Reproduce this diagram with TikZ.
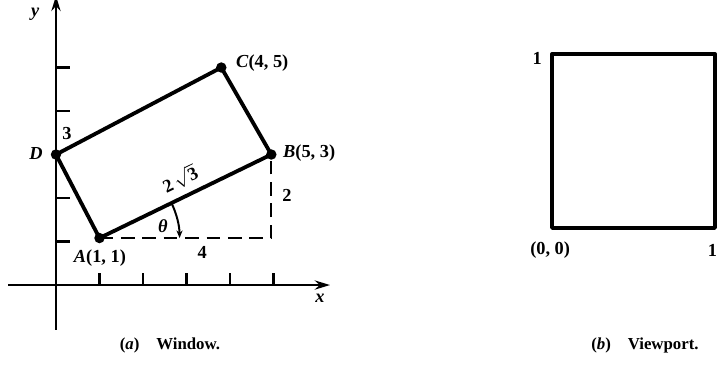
\documentclass[tikz,border=0pt]{standalone}
\usepackage{fontspec}
\setmainfont{Liberation Serif}
\usetikzlibrary{arrows.meta,calc}

\tikzset{
  lbl/.style={font=\fontsize{12}{14}\selectfont\bfseries, inner sep=1pt},
  captext/.style={font=\fontsize{11}{13}\selectfont\bfseries, inner sep=1pt},
  axisline/.style={line width=1.6pt},
  edgeline/.style={line width=2.5pt, line join=round},
  dashline/.style={line width=1.3pt, dash pattern=on 9pt off 5pt},
  axistip/.style={-{Stealth[length=10pt,width=6pt]}}
}

\begin{document}
\begin{tikzpicture}

    \useasboundingbox (-1.287,-1.839) rectangle (15.241,6.552);

    % 顶点
    \coordinate (A) at (1,1.08);
    \coordinate (B) at (4.95,3);
    \coordinate (C) at (3.8,5);
    \coordinate (D) at (0,3);
    \coordinate (E) at (4.95,1.08);

    % 坐标轴
    \draw[axisline, axistip] (-1.1,0) -- (6.3,0);
    \draw[axisline, axistip] (0,-1.03) -- (0,6.65);
    \node[lbl, font=\fontsize{12}{14}\selectfont\bfseries\itshape] (ylab) at (-0.48,6.23) {y};
    \node[lbl, font=\fontsize{12}{14}\selectfont\bfseries\itshape] (xlab) at (6.07,-0.3) {x};

    % 刻度
    \foreach \i in {1,...,5}
        \draw[axisline] (\i,0) -- (\i,0.28);
    \foreach \j in {1,2,4,5}
        \draw[axisline] (0,\j) -- (0.32,\j);

    % 虚线
    \draw[dashline] (A) -- (E) -- (B);

    % 窗口矩形
    \draw[edgeline] (A) -- (B) -- (C) -- (D) -- cycle;
    \foreach \p in {A,B,C,D}
        \fill (\p) circle (0.12);

    % 角度
    \draw[line width=1.3pt, -{Stealth[length=5pt,width=4pt]}]
        ($(A)+(25.9:1.84)$) arc (25.9:0:1.84);

    % 标注
    \node[lbl] (labA) at (1.01,0.62) {\textit{A}(1, 1)};
    \node[lbl, anchor=west] (labB) at (5.18,3.03) {\textit{B}(5, 3)};
    \node[lbl, anchor=west] (labC) at (4.1,5.1) {\textit{C}(4, 5)};
    \node[lbl] (labD) at (-0.46,3.03) {\textit{D}};
    \node[lbl] (lab3) at (0.25,3.49) {3};
    \node[lbl] (lab2) at (5.31,2.07) {2};
    \node[lbl] (lab4) at (3.36,0.74) {4};
    \node[lbl, rotate=26] (labAB) at (2.85,2.43) {2\,$\sqrt{\mathbf{3}}$};
    \node[lbl] (labth) at (2.46,1.36) {\textit{θ}};
    \node[captext] (capa) at (2.62,-1.38) {(\textit{a})\quad Window.};

    % 视口
    \coordinate (O) at (11.40,1.31);
    \coordinate (P) at (15.15,5.31);
    \draw[edgeline, line width=2.2pt] (O) rectangle (P);
    \node[lbl] (vp1) at (11.06,5.22) {1};
    \node[lbl] (vp00) at (11.36,0.80) {(0, 0)};
    \node[lbl, anchor=east] (vp1r) at (15.24,0.80) {1};
    \node[captext] (capb) at (13.54,-1.38) {(\textit{b})\quad Viewport.};

\end{tikzpicture}
\end{document}
